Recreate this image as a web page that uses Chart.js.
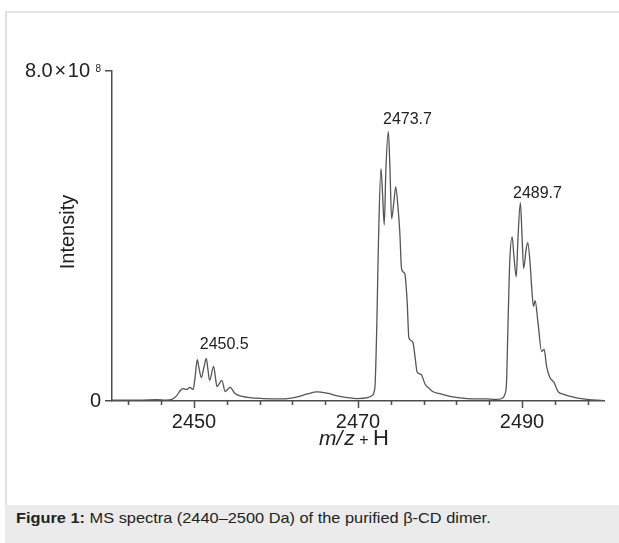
<!DOCTYPE html>
<html>
<head>
<meta charset="utf-8">
<script src="https://cdn.jsdelivr.net/npm/chart.js@4.4.1/dist/chart.umd.min.js"></script>
<style>
    html, body { margin: 0; padding: 0; background: #fff; }
    #wrap { position: relative; width: 619px; height: 543px; overflow: hidden; font-family: Arial, "Liberation Sans", sans-serif; }
    #frame { position: absolute; left: 5px; top: 11px; width: 640px; height: 494px; border-left: 2px solid #e3e3e3; border-top: 2px solid #e3e3e3; box-sizing: border-box; }
    #chart { position: absolute; left: 0; top: 0; }
    #caption { position: absolute; left: 5px; top: 505px; width: 640px; height: 38px; background: #ebebeb; color: #222; font-size: 15px; }
    #caption span { position: absolute; left: 11px; top: 3.5px; white-space: nowrap; transform: scaleX(1.09); transform-origin: left top; }
</style>
</head>
<body>
<div id="wrap">
    <div id="frame"></div>
    <canvas id="chart" width="619" height="505"></canvas>
    <div id="caption"><span><b>Figure 1:</b> MS spectra (2440–2500 Da) of the purified β-CD dimer.</span></div>
</div>
<script>
// m/z values and intensity (in units of 10^8)
const mz = [
    2440.0, 2441.6, 2443.4, 2445.5, 2446.6, 2447.3, 2447.9, 2448.3, 2448.7, 2449.1,
    2449.5, 2449.9, 2450.1, 2450.4, 2450.6, 2450.9, 2451.2, 2451.5, 2451.7, 2451.9,
    2452.4, 2452.6, 2452.8, 2453.4, 2453.8, 2454.1, 2454.4, 2455.0, 2455.9, 2456.8,
    2458.4, 2460.9, 2462.6, 2463.8, 2465.0, 2466.2, 2467.8, 2469.9, 2471.2, 2471.7,
    2471.95, 2472.1, 2472.3, 2472.5, 2472.8, 2473.0, 2473.2, 2473.4, 2473.7, 2473.9,
    2474.1, 2474.4, 2474.6, 2474.9, 2475.1, 2475.3, 2475.5, 2475.7, 2476.0, 2476.2,
    2476.5, 2476.7, 2477.0, 2477.2, 2477.7, 2478.2, 2478.7, 2479.1, 2480.1, 2481.2,
    2483.3, 2485.5, 2486.95, 2487.7, 2487.9, 2488.1, 2488.3, 2488.5, 2488.8, 2489.0,
    2489.3, 2489.5, 2489.8, 2490.0, 2490.2, 2490.5, 2490.7, 2491.0, 2491.2, 2491.4,
    2491.6, 2491.95, 2492.4, 2492.7, 2493.0, 2493.4, 2493.9, 2494.4, 2495.1, 2495.9,
    2497.4, 2500.0
];
const intensity = [
    0.02, 0.02, 0.02, 0.03, 0.02, 0.04, 0.13, 0.25, 0.30, 0.28,
    0.33, 0.28, 0.52, 1.00, 0.81, 0.57, 0.81, 1.03, 0.76, 0.50,
    0.84, 0.59, 0.35, 0.50, 0.23, 0.28, 0.33, 0.18, 0.11, 0.08,
    0.06, 0.05, 0.10, 0.17, 0.22, 0.19, 0.11, 0.06, 0.08, 0.13,
    0.21, 0.45, 1.90, 3.91, 5.63, 5.00, 4.27, 5.61, 6.53, 5.61,
    4.42, 4.88, 5.19, 4.64, 4.08, 3.23, 3.13, 3.09, 2.39, 1.54,
    1.46, 1.42, 1.00, 0.71, 0.64, 0.40, 0.30, 0.23, 0.17, 0.11,
    0.06, 0.05, 0.04, 0.08, 0.16, 0.40, 1.90, 3.35, 3.98, 3.55,
    3.01, 3.91, 4.81, 4.03, 3.21, 3.67, 3.84, 3.30, 2.70, 2.29,
    2.43, 1.90, 1.20, 1.25, 0.84, 0.57, 0.45, 0.23, 0.16, 0.11,
    0.05, 0.01
];

const xTicks = [2442, 2446, 2450, 2454, 2458, 2462, 2466, 2470, 2474, 2478, 2482, 2486, 2490, 2494, 2498];
const xLabelTicks = [2450, 2470, 2490];
const yTicks = [0, 8];

const peakLabels = ['2450.5', '2473.7', '2489.7'];
const peakLabelMz = [2450.7, 2473.05, 2488.9];
const peakLabelInt = [1.27, 6.72, 4.93];

const FONT = 'Arial, "Liberation Sans", sans-serif';
const AXIS = '#4d4d4d';
const TEXT = '#222';

// ticks, titles and peak labels that Chart.js can't draw by itself
const extras = {
    id: 'extras',
    afterDraw(chart) {
        const ctx = chart.ctx;
        const xs = chart.scales.x, ys = chart.scales.y;
        const area = chart.chartArea;
        ctx.save();

        // x tick marks (major ones longer)
        ctx.strokeStyle = AXIS;
        ctx.lineWidth = 1.5;
        xTicks.forEach(v => {
            const px = Math.round(xs.getPixelForValue(v)) + 0.5;
            const len = xLabelTicks.includes(v) ? 7 : 4;
            ctx.beginPath();
            ctx.moveTo(px, area.bottom);
            ctx.lineTo(px, area.bottom + len);
            ctx.stroke();
        });

        // top y label 8.0×10^8
        ctx.fillStyle = TEXT;
        const yTop = ys.getPixelForValue(yTicks[1]);
        ctx.textBaseline = 'alphabetic';
        ctx.textAlign = 'right';
        ctx.font = '10px ' + FONT;
        ctx.fillText('8', area.left - 11, yTop + 1);
        ctx.font = '20px ' + FONT;
        ctx.fillText('8.0\u200a×\u200a10', area.left - 22, yTop + 6);

        // y title
        ctx.save();
        ctx.translate(74, (area.top + area.bottom) / 2 - 4);
        ctx.rotate(-Math.PI / 2);
        ctx.textAlign = 'center';
        ctx.font = '20px ' + FONT;
        ctx.fillText('Intensity', 0, 0);
        ctx.restore();

        // x title: m/z + H
        const parts = [
            { t: 'm/', f: 'italic 21px ' + FONT },
            { t: 'z', f: 'italic 21px ' + FONT },
            { t: ' + ', f: '16px ' + FONT },
            { t: 'H', f: '22px ' + FONT }
        ];
        let w = 0;
        parts.forEach(p => { ctx.font = p.f; p.w = ctx.measureText(p.t).width; w += p.w; });
        let x0 = 353 - w / 2;
        const base = area.bottom + 44;
        ctx.textAlign = 'left';
        parts.forEach(p => {
            ctx.font = p.f;
            ctx.fillText(p.t, x0, base);
            x0 += p.w + (p.t === 'm/' ? 2 : 0);
        });

        // peak labels
        ctx.font = '16px ' + FONT;
        peakLabels.forEach((t, i) => {
            ctx.fillText(t, xs.getPixelForValue(peakLabelMz[i]), ys.getPixelForValue(peakLabelInt[i]));
        });

        ctx.restore();
    }
};

new Chart(document.getElementById('chart').getContext('2d'), {
    type: 'scatter',
    data: {
        datasets: [{
            data: mz.map((x, i) => ({ x: x, y: intensity[i] })),
            showLine: true,
            borderColor: '#555',
            borderWidth: 1.3,
            pointRadius: 0,
            cubicInterpolationMode: 'monotone'
        }]
    },
    options: {
        responsive: false,
        animation: false,
        layout: { padding: { left: 0, top: 71, right: 15, bottom: 54 } },
        plugins: { legend: { display: false }, tooltip: { enabled: false } },
        scales: {
            x: {
                type: 'linear',
                min: 2440,
                max: 2500,
                afterBuildTicks: s => { s.ticks = xTicks.map(v => ({ value: v })); },
                afterFit: s => { s.height = 50; },
                grid: { display: false, drawTicks: false },
                border: { display: true, color: AXIS, width: 1.5 },
                ticks: {
                    autoSkip: false,
                    maxRotation: 0,
                    padding: 9,
                    color: TEXT,
                    font: { size: 20, family: FONT },
                    callback: v => xLabelTicks.includes(v) ? String(v) : ''
                }
            },
            y: {
                min: 0,
                max: 8,
                afterBuildTicks: s => { s.ticks = yTicks.map(v => ({ value: v })); },
                afterFit: s => { s.width = 112; },
                grid: { drawOnChartArea: false, drawTicks: true, tickLength: 7, color: AXIS, lineWidth: 1.5 },
                border: { display: true, color: AXIS, width: 1.5 },
                ticks: {
                    padding: 4,
                    color: TEXT,
                    font: { size: 20, family: FONT },
                    callback: v => v === 0 ? '0' : ''
                }
            }
        }
    },
    plugins: [extras]
});
</script>
</body>
</html>
